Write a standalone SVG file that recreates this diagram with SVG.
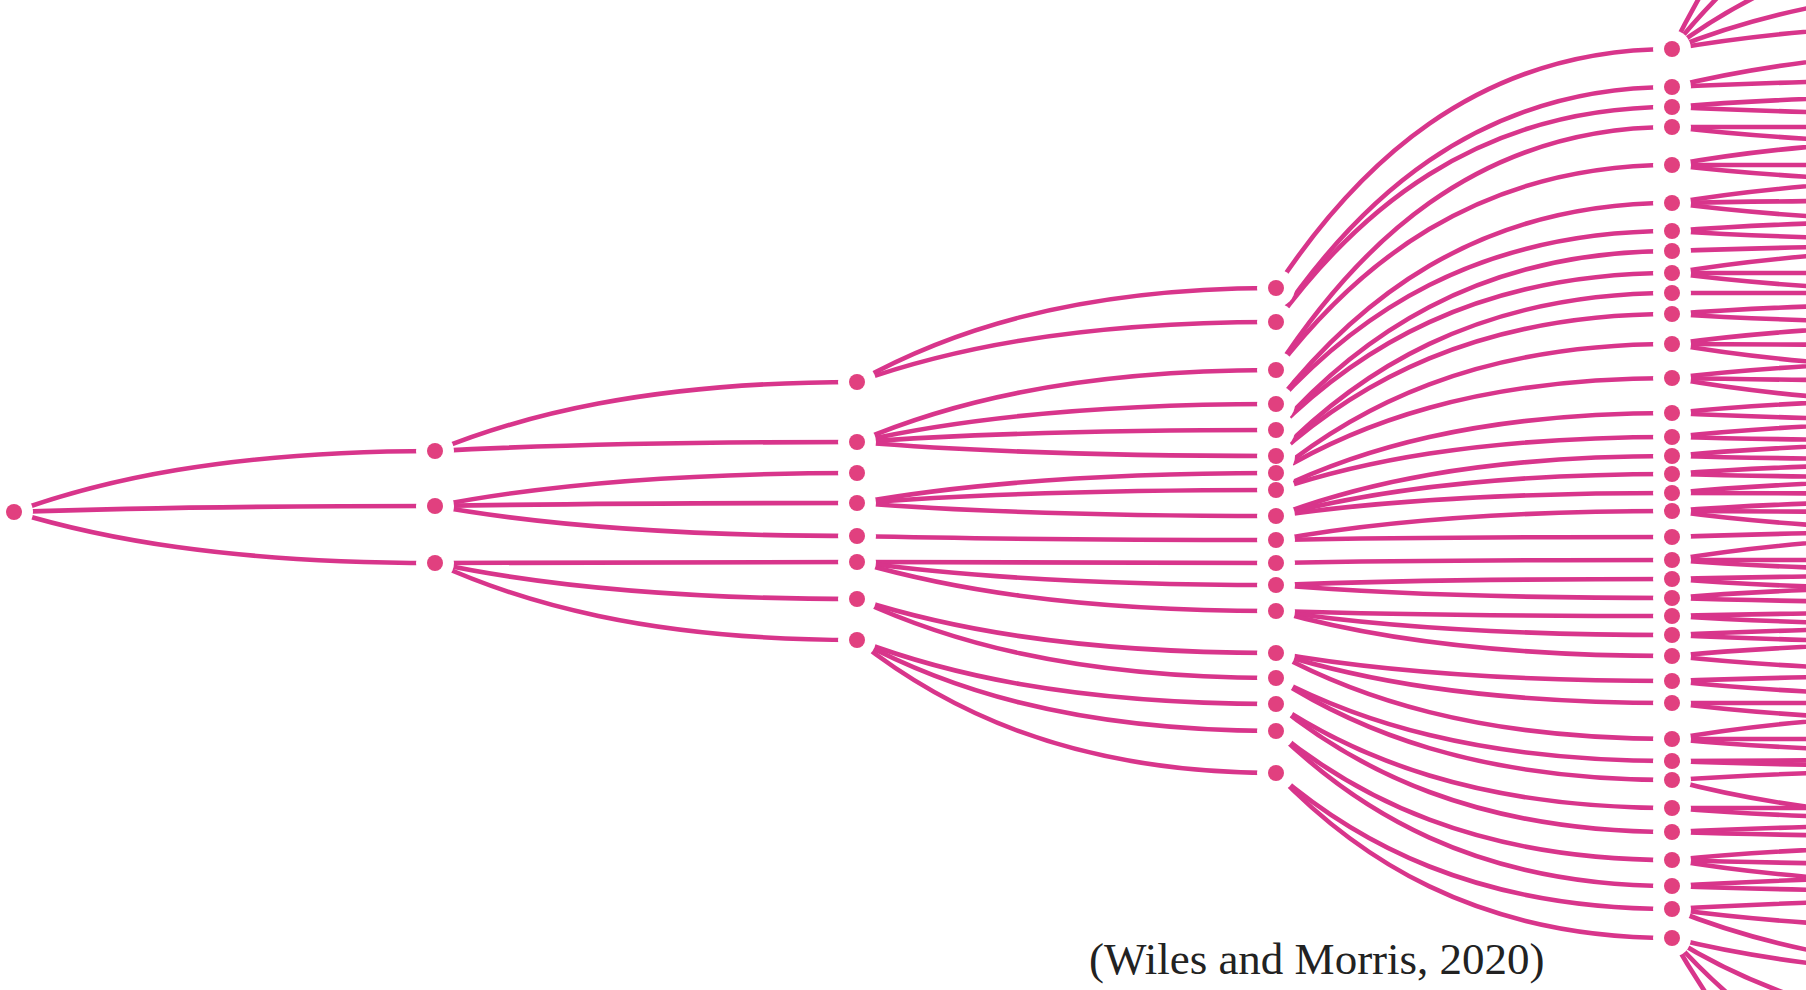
<svg xmlns="http://www.w3.org/2000/svg" width="1806" height="990" viewBox="0 0 1806 990">
<style>
.edge{fill:none;stroke:#d8358b;stroke-width:4.6;stroke-linecap:round}
.halo{fill:#ffffff}
.dot{fill:#e1407f}
.cite{font-family:"Liberation Serif","Times New Roman",serif;font-size:45px;fill:#222222}
</style>
<rect width="1806" height="990" fill="#ffffff"/>
<g id="connectors" class="edge">
<!-- level 0 to 1 -->
<path d="M14 512 c84 -30.5 210 -61 421 -61"/>
<path d="M14 512 c84 -3 210 -6 421 -6"/>
<path d="M14 512 c84 25.5 210 51 421 51"/>
<!-- level 1 to 2 -->
<path d="M435 451 c84 -34.5 211 -69 422 -69"/>
<path d="M435 451 c84 -4.5 211 -9 422 -9"/>
<path d="M435 506 c84 -16.5 211 -33 422 -33"/>
<path d="M435 506 c84 -1.5 211 -3 422 -3"/>
<path d="M435 506 c84 15 211 30 422 30"/>
<path d="M435 563 c84 -0.5 211 -1 422 -1"/>
<path d="M435 563 c84 18 211 36 422 36"/>
<path d="M435 563 c84 38.5 211 77 422 77"/>
<!-- level 2 to 3 -->
<path d="M857 382 c84 -47 210 -94 419 -94"/>
<path d="M857 382 c84 -30 210 -60 419 -60"/>
<path d="M857 442 c84 -36 210 -72 419 -72"/>
<path d="M857 442 c84 -19 210 -38 419 -38"/>
<path d="M857 442 c84 -6 210 -12 419 -12"/>
<path d="M857 442 c84 7 210 14 419 14"/>
<path d="M857 503 c84 -15 210 -30 419 -30"/>
<path d="M857 503 c84 -6.5 210 -13 419 -13"/>
<path d="M857 503 c84 6.5 210 13 419 13"/>
<path d="M857 536 c84 2 210 4 419 4"/>
<path d="M857 562 c84 0.5 210 1 419 1"/>
<path d="M857 562 c84 11.5 210 23 419 23"/>
<path d="M857 562 c84 24.5 210 49 419 49"/>
<path d="M857 599 c84 27 210 54 419 54"/>
<path d="M857 599 c84 39.5 210 79 419 79"/>
<path d="M857 640 c84 32 210 64 419 64"/>
<path d="M857 640 c84 45.5 210 91 419 91"/>
<path d="M857 640 c84 66.5 210 133 419 133"/>
<!-- level 3 to 4 -->
<path d="M1276 288 c79 -119.5 198 -239 396 -239"/>
<path d="M1276 322 c79 -117.5 198 -235 396 -235"/>
<path d="M1276 322 c79 -107.5 198 -215 396 -215"/>
<path d="M1276 370 c79 -121.5 198 -243 396 -243"/>
<path d="M1276 370 c79 -102.5 198 -205 396 -205"/>
<path d="M1276 404 c79 -100.5 198 -201 396 -201"/>
<path d="M1276 404 c79 -86.5 198 -173 396 -173"/>
<path d="M1276 430 c79 -89.5 198 -179 396 -179"/>
<path d="M1276 430 c79 -78.5 198 -157 396 -157"/>
<path d="M1276 456 c79 -81.5 198 -163 396 -163"/>
<path d="M1276 456 c79 -71 198 -142 396 -142"/>
<path d="M1276 473 c79 -64.5 198 -129 396 -129"/>
<path d="M1276 473 c79 -47.5 198 -95 396 -95"/>
<path d="M1276 490 c79 -38.5 198 -77 396 -77"/>
<path d="M1276 490 c79 -26.5 198 -53 396 -53"/>
<path d="M1276 516 c79 -30 198 -60 396 -60"/>
<path d="M1276 516 c79 -21 198 -42 396 -42"/>
<path d="M1276 516 c79 -11.5 198 -23 396 -23"/>
<path d="M1276 540 c79 -14.5 198 -29 396 -29"/>
<path d="M1276 540 c79 -1.5 198 -3 396 -3"/>
<path d="M1276 563 c79 -1.5 198 -3 396 -3"/>
<path d="M1276 585 c79 -3 198 -6 396 -6"/>
<path d="M1276 585 c79 6.5 198 13 396 13"/>
<path d="M1276 611 c79 2.5 198 5 396 5"/>
<path d="M1276 611 c79 12 198 24 396 24"/>
<path d="M1276 611 c79 22.5 198 45 396 45"/>
<path d="M1276 653 c79 14 198 28 396 28"/>
<path d="M1276 653 c79 25 198 50 396 50"/>
<path d="M1276 653 c79 43 198 86 396 86"/>
<path d="M1276 678 c79 41.5 198 83 396 83"/>
<path d="M1276 678 c79 51 198 102 396 102"/>
<path d="M1276 704 c79 52 198 104 396 104"/>
<path d="M1276 704 c79 64 198 128 396 128"/>
<path d="M1276 731 c79 64.5 198 129 396 129"/>
<path d="M1276 731 c79 77.5 198 155 396 155"/>
<path d="M1276 773 c79 68 198 136 396 136"/>
<path d="M1276 773 c79 82.5 198 165 396 165"/>
<!-- level 4 onward, running off the right edge -->
<path d="M1672 49 c80 -160 200 -320 400 -320"/>
<path d="M1672 49 c80 -100 200 -200 400 -200"/>
<path d="M1672 49 c80 -60 200 -120 400 -120"/>
<path d="M1672 49 c80 -32.5 200 -65 400 -65"/>
<path d="M1672 49 c80 -14 200 -28 400 -28"/>
<path d="M1672 87 c80 -20 200 -40 400 -40"/>
<path d="M1672 87 c80 -4 200 -8 400 -8"/>
<path d="M1672 107 c80 -6.5 200 -13 400 -13"/>
<path d="M1672 107 c80 4 200 8 400 8"/>
<path d="M1672 127 c80 0 200 0 400 0"/>
<path d="M1672 127 c80 9.5 200 19 400 19"/>
<path d="M1672 165 c80 -14.5 200 -29 400 -29"/>
<path d="M1672 165 c80 0 200 0 400 0"/>
<path d="M1672 165 c80 9.5 200 19 400 19"/>
<path d="M1672 203 c80 -13.5 200 -27 400 -27"/>
<path d="M1672 203 c80 -1.5 200 -3 400 -3"/>
<path d="M1672 203 c80 10.5 200 21 400 21"/>
<path d="M1672 231 c80 -6 200 -12 400 -12"/>
<path d="M1672 231 c80 5 200 10 400 10"/>
<path d="M1672 251 c80 -3 200 -6 400 -6"/>
<path d="M1672 273 c80 -13.5 200 -27 400 -27"/>
<path d="M1672 273 c80 0 200 0 400 0"/>
<path d="M1672 273 c80 10.5 200 21 400 21"/>
<path d="M1672 293 c80 0 200 0 400 0"/>
<path d="M1672 314 c80 -6 200 -12 400 -12"/>
<path d="M1672 314 c80 5 200 10 400 10"/>
<path d="M1672 344 c80 -11 200 -22 400 -22"/>
<path d="M1672 344 c80 1 200 2 400 2"/>
<path d="M1672 344 c80 14 200 28 400 28"/>
<path d="M1672 378 c80 -9.5 200 -19 400 -19"/>
<path d="M1672 378 c80 1.5 200 3 400 3"/>
<path d="M1672 378 c80 14.5 200 29 400 29"/>
<path d="M1672 413 c80 -8 200 -16 400 -16"/>
<path d="M1672 413 c80 4 200 8 400 8"/>
<path d="M1672 437 c80 -8.5 200 -17 400 -17"/>
<path d="M1672 437 c80 2 200 4 400 4"/>
<path d="M1672 456 c80 -7.5 200 -15 400 -15"/>
<path d="M1672 456 c80 2 200 4 400 4"/>
<path d="M1672 474 c80 -6 200 -12 400 -12"/>
<path d="M1672 474 c80 2 200 4 400 4"/>
<path d="M1672 493 c80 -7.5 200 -15 400 -15"/>
<path d="M1672 493 c80 0.5 200 1 400 1"/>
<path d="M1672 511 c80 -6 200 -12 400 -12"/>
<path d="M1672 511 c80 1 200 2 400 2"/>
<path d="M1672 511 c80 11 200 22 400 22"/>
<path d="M1672 537 c80 -3 200 -6 400 -6"/>
<path d="M1672 560 c80 -13.5 200 -27 400 -27"/>
<path d="M1672 560 c80 0 200 0 400 0"/>
<path d="M1672 560 c80 6 200 12 400 12"/>
<path d="M1672 579 c80 -2 200 -4 400 -4"/>
<path d="M1672 579 c80 6 200 12 400 12"/>
<path d="M1672 598 c80 -6.5 200 -13 400 -13"/>
<path d="M1672 598 c80 2.5 200 5 400 5"/>
<path d="M1672 616 c80 -2 200 -4 400 -4"/>
<path d="M1672 616 c80 5 200 10 400 10"/>
<path d="M1672 635 c80 -4 200 -8 400 -8"/>
<path d="M1672 635 c80 4 200 8 400 8"/>
<path d="M1672 656 c80 -7.5 200 -15 400 -15"/>
<path d="M1672 656 c80 8.5 200 17 400 17"/>
<path d="M1672 681 c80 -3 200 -6 400 -6"/>
<path d="M1672 681 c80 8.5 200 17 400 17"/>
<path d="M1672 703 c80 0 200 0 400 0"/>
<path d="M1672 703 c80 10 200 20 400 20"/>
<path d="M1672 739 c80 -14 200 -28 400 -28"/>
<path d="M1672 739 c80 0 200 0 400 0"/>
<path d="M1672 739 c80 7.5 200 15 400 15"/>
<path d="M1672 761 c80 -1 200 -2 400 -2"/>
<path d="M1672 761 c80 3 200 6 400 6"/>
<path d="M1672 780 c80 -5.5 200 -11 400 -11"/>
<path d="M1672 780 c80 21.5 200 43 400 43"/>
<path d="M1672 808 c80 0 200 0 400 0"/>
<path d="M1672 808 c80 6.5 200 13 400 13"/>
<path d="M1672 832 c80 -4 200 -8 400 -8"/>
<path d="M1672 832 c80 2.5 200 5 400 5"/>
<path d="M1672 860 c80 -8 200 -16 400 -16"/>
<path d="M1672 860 c80 2.5 200 5 400 5"/>
<path d="M1672 860 c80 13.5 200 27 400 27"/>
<path d="M1672 886 c80 -5 200 -10 400 -10"/>
<path d="M1672 886 c80 3 200 6 400 6"/>
<path d="M1672 909 c80 -5 200 -10 400 -10"/>
<path d="M1672 909 c80 11 200 22 400 22"/>
<path d="M1672 909 c80 32.5 200 65 400 65"/>
<path d="M1672 938 c80 20 200 40 400 40"/>
<path d="M1672 938 c80 50 200 100 400 100"/>
<path d="M1672 938 c80 90 200 180 400 180"/>
<path d="M1672 938 c80 140 200 280 400 280"/>
</g>
<!-- white clearings that open a small gap between each dot and its links -->
<g id="gaps" class="halo">
<circle cx="14" cy="512" r="19"/>
<circle cx="435" cy="451" r="19"/><circle cx="435" cy="506" r="19"/><circle cx="435" cy="563" r="19"/>
<circle cx="857" cy="382" r="19"/><circle cx="857" cy="442" r="19"/><circle cx="857" cy="473" r="19"/><circle cx="857" cy="503" r="19"/>
<circle cx="857" cy="536" r="19"/><circle cx="857" cy="562" r="19"/><circle cx="857" cy="599" r="19"/><circle cx="857" cy="640" r="19"/>
<circle cx="1276" cy="288" r="19"/><circle cx="1276" cy="322" r="19"/><circle cx="1276" cy="370" r="19"/><circle cx="1276" cy="404" r="19"/>
<circle cx="1276" cy="430" r="19"/><circle cx="1276" cy="456" r="19"/><circle cx="1276" cy="473" r="19"/><circle cx="1276" cy="490" r="19"/>
<circle cx="1276" cy="516" r="19"/><circle cx="1276" cy="540" r="19"/><circle cx="1276" cy="563" r="19"/><circle cx="1276" cy="585" r="19"/>
<circle cx="1276" cy="611" r="19"/><circle cx="1276" cy="653" r="19"/><circle cx="1276" cy="678" r="19"/><circle cx="1276" cy="704" r="19"/>
<circle cx="1276" cy="731" r="19"/><circle cx="1276" cy="773" r="19"/>
<circle cx="1672" cy="49" r="19"/><circle cx="1672" cy="87" r="19"/><circle cx="1672" cy="107" r="19"/><circle cx="1672" cy="127" r="19"/>
<circle cx="1672" cy="165" r="19"/><circle cx="1672" cy="203" r="19"/><circle cx="1672" cy="231" r="19"/><circle cx="1672" cy="251" r="19"/>
<circle cx="1672" cy="273" r="19"/><circle cx="1672" cy="293" r="19"/><circle cx="1672" cy="314" r="19"/><circle cx="1672" cy="344" r="19"/>
<circle cx="1672" cy="378" r="19"/><circle cx="1672" cy="413" r="19"/><circle cx="1672" cy="437" r="19"/><circle cx="1672" cy="456" r="19"/>
<circle cx="1672" cy="474" r="19"/><circle cx="1672" cy="493" r="19"/><circle cx="1672" cy="511" r="19"/><circle cx="1672" cy="537" r="19"/>
<circle cx="1672" cy="560" r="19"/><circle cx="1672" cy="579" r="19"/><circle cx="1672" cy="598" r="19"/><circle cx="1672" cy="616" r="19"/>
<circle cx="1672" cy="635" r="19"/><circle cx="1672" cy="656" r="19"/><circle cx="1672" cy="681" r="19"/><circle cx="1672" cy="703" r="19"/>
<circle cx="1672" cy="739" r="19"/><circle cx="1672" cy="761" r="19"/><circle cx="1672" cy="780" r="19"/><circle cx="1672" cy="808" r="19"/>
<circle cx="1672" cy="832" r="19"/><circle cx="1672" cy="860" r="19"/><circle cx="1672" cy="886" r="19"/><circle cx="1672" cy="909" r="19"/>
<circle cx="1672" cy="938" r="19"/>
</g>
<g id="nodes" class="dot">
<g id="n0-512"><circle cx="14" cy="512" r="8"/></g>
<g id="n1-451"><circle cx="435" cy="451" r="8"/></g>
<g id="n1-506"><circle cx="435" cy="506" r="8"/></g>
<g id="n1-563"><circle cx="435" cy="563" r="8"/></g>
<g id="n2-382"><circle cx="857" cy="382" r="8"/></g>
<g id="n2-442"><circle cx="857" cy="442" r="8"/></g>
<g id="n2-473"><circle cx="857" cy="473" r="8"/></g>
<g id="n2-503"><circle cx="857" cy="503" r="8"/></g>
<g id="n2-536"><circle cx="857" cy="536" r="8"/></g>
<g id="n2-562"><circle cx="857" cy="562" r="8"/></g>
<g id="n2-599"><circle cx="857" cy="599" r="8"/></g>
<g id="n2-640"><circle cx="857" cy="640" r="8"/></g>
<g id="n3-288"><circle cx="1276" cy="288" r="8"/></g>
<g id="n3-322"><circle cx="1276" cy="322" r="8"/></g>
<g id="n3-370"><circle cx="1276" cy="370" r="8"/></g>
<g id="n3-404"><circle cx="1276" cy="404" r="8"/></g>
<g id="n3-430"><circle cx="1276" cy="430" r="8"/></g>
<g id="n3-456"><circle cx="1276" cy="456" r="8"/></g>
<g id="n3-473"><circle cx="1276" cy="473" r="8"/></g>
<g id="n3-490"><circle cx="1276" cy="490" r="8"/></g>
<g id="n3-516"><circle cx="1276" cy="516" r="8"/></g>
<g id="n3-540"><circle cx="1276" cy="540" r="8"/></g>
<g id="n3-563"><circle cx="1276" cy="563" r="8"/></g>
<g id="n3-585"><circle cx="1276" cy="585" r="8"/></g>
<g id="n3-611"><circle cx="1276" cy="611" r="8"/></g>
<g id="n3-653"><circle cx="1276" cy="653" r="8"/></g>
<g id="n3-678"><circle cx="1276" cy="678" r="8"/></g>
<g id="n3-704"><circle cx="1276" cy="704" r="8"/></g>
<g id="n3-731"><circle cx="1276" cy="731" r="8"/></g>
<g id="n3-773"><circle cx="1276" cy="773" r="8"/></g>
<g id="n4-49"><circle cx="1672" cy="49" r="8"/></g>
<g id="n4-87"><circle cx="1672" cy="87" r="8"/></g>
<g id="n4-107"><circle cx="1672" cy="107" r="8"/></g>
<g id="n4-127"><circle cx="1672" cy="127" r="8"/></g>
<g id="n4-165"><circle cx="1672" cy="165" r="8"/></g>
<g id="n4-203"><circle cx="1672" cy="203" r="8"/></g>
<g id="n4-231"><circle cx="1672" cy="231" r="8"/></g>
<g id="n4-251"><circle cx="1672" cy="251" r="8"/></g>
<g id="n4-273"><circle cx="1672" cy="273" r="8"/></g>
<g id="n4-293"><circle cx="1672" cy="293" r="8"/></g>
<g id="n4-314"><circle cx="1672" cy="314" r="8"/></g>
<g id="n4-344"><circle cx="1672" cy="344" r="8"/></g>
<g id="n4-378"><circle cx="1672" cy="378" r="8"/></g>
<g id="n4-413"><circle cx="1672" cy="413" r="8"/></g>
<g id="n4-437"><circle cx="1672" cy="437" r="8"/></g>
<g id="n4-456"><circle cx="1672" cy="456" r="8"/></g>
<g id="n4-474"><circle cx="1672" cy="474" r="8"/></g>
<g id="n4-493"><circle cx="1672" cy="493" r="8"/></g>
<g id="n4-511"><circle cx="1672" cy="511" r="8"/></g>
<g id="n4-537"><circle cx="1672" cy="537" r="8"/></g>
<g id="n4-560"><circle cx="1672" cy="560" r="8"/></g>
<g id="n4-579"><circle cx="1672" cy="579" r="8"/></g>
<g id="n4-598"><circle cx="1672" cy="598" r="8"/></g>
<g id="n4-616"><circle cx="1672" cy="616" r="8"/></g>
<g id="n4-635"><circle cx="1672" cy="635" r="8"/></g>
<g id="n4-656"><circle cx="1672" cy="656" r="8"/></g>
<g id="n4-681"><circle cx="1672" cy="681" r="8"/></g>
<g id="n4-703"><circle cx="1672" cy="703" r="8"/></g>
<g id="n4-739"><circle cx="1672" cy="739" r="8"/></g>
<g id="n4-761"><circle cx="1672" cy="761" r="8"/></g>
<g id="n4-780"><circle cx="1672" cy="780" r="8"/></g>
<g id="n4-808"><circle cx="1672" cy="808" r="8"/></g>
<g id="n4-832"><circle cx="1672" cy="832" r="8"/></g>
<g id="n4-860"><circle cx="1672" cy="860" r="8"/></g>
<g id="n4-886"><circle cx="1672" cy="886" r="8"/></g>
<g id="n4-909"><circle cx="1672" cy="909" r="8"/></g>
<g id="n4-938"><circle cx="1672" cy="938" r="8"/></g>
</g>
<text class="cite" x="1089" y="974">(Wiles and Morris, 2020)</text>
</svg>
